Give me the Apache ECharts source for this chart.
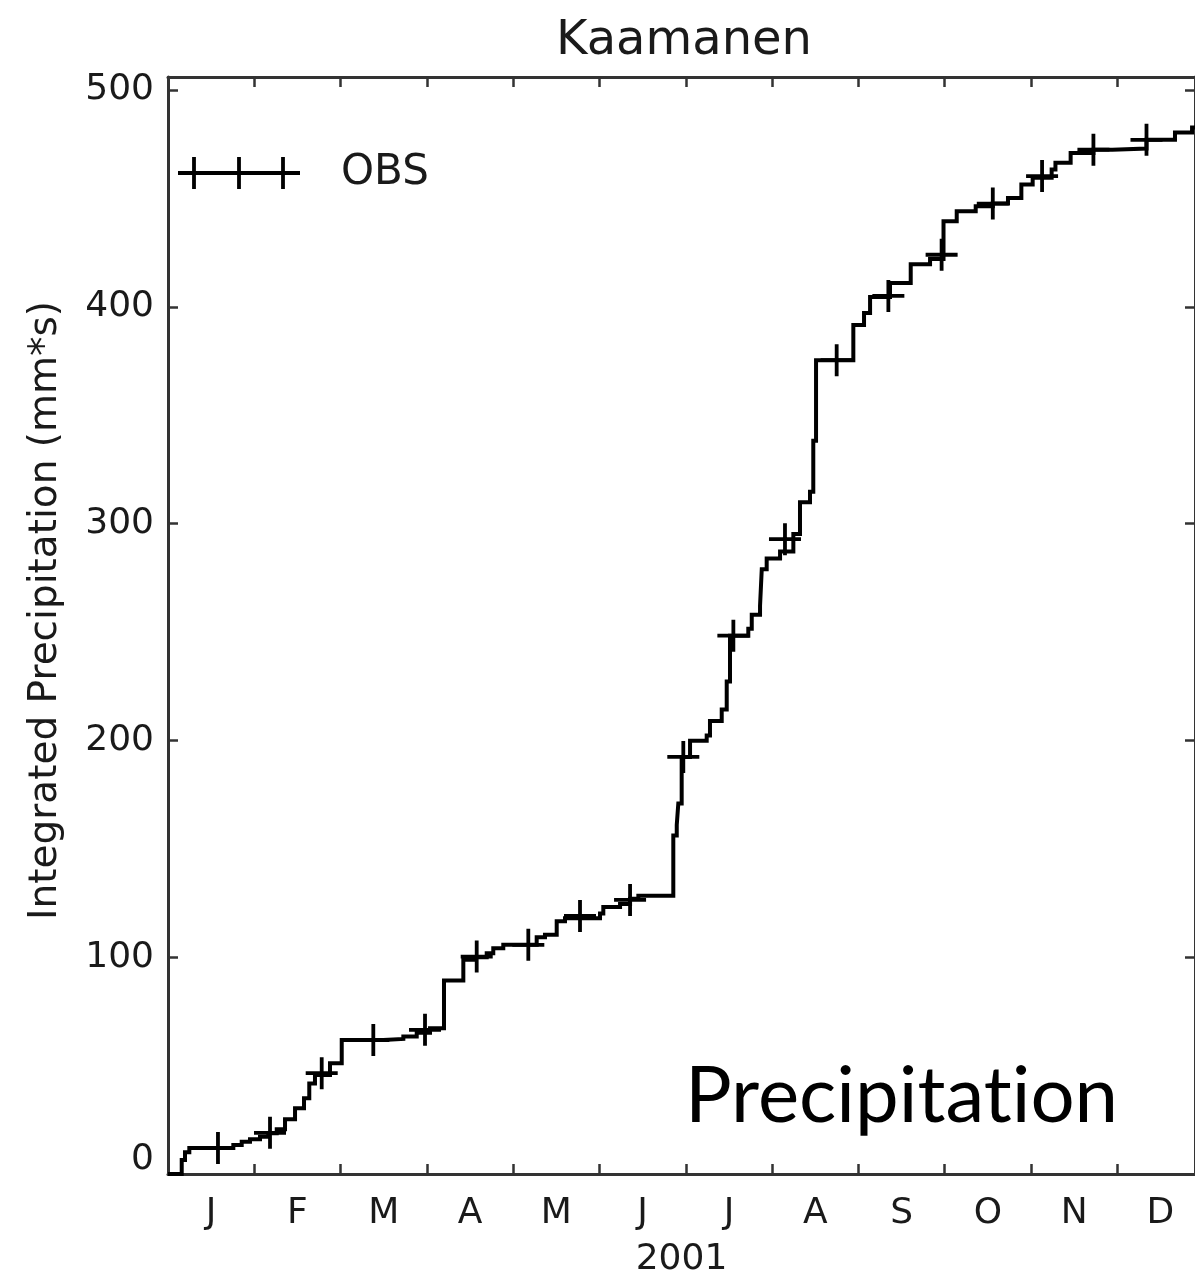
<!DOCTYPE html>
<html><head><meta charset="utf-8">
<script src="https://cdn.jsdelivr.net/npm/echarts@6/dist/echarts.min.js"></script>
<style>html,body{margin:0;padding:0;background:#fff}#c{width:1195px;height:1276px}</style>
</head><body><div id="c"></div>
<script>
// ---- data (x in months since Jan 1 2001, y in mm*s) ----
const monthLetters = ['J','F','M','A','M','J','J','A','S','O','N','D'];
const monthTicks = [1,2,3,4,5,6,7,8,9,10,11];
const monthLabelPos = [0.5,1.5,2.5,3.5,4.5,5.5,6.5,7.5,8.5,9.5,10.5,11.5];
const yTicks = [0,100,200,300,400,500];

const stepX = [0,0.159,0.197,0.247,0.757,0.854,0.950,1.066,1.162,1.260,1.356,1.472,1.576,1.637,1.703,1.877,2.013,2.495,2.727,2.882,3.036,3.198,3.422,3.557,3.693,3.769,3.885,4.272,4.368,4.504,4.600,5.006,5.044,5.238,5.354,5.450,5.855,5.895,5.913,5.952,6.049,6.242,6.280,6.416,6.474,6.512,6.724,6.764,6.860,6.880,6.937,7.092,7.246,7.323,7.439,7.477,7.509,7.941,8.065,8.135,8.366,8.606,8.830,8.986,9.139,9.359,9.557,9.733,9.888,10.019,10.239,10.283,10.459,10.723,10.942,11.338,11.668,11.866,11.9];
const stepY = [0,6.5,10,12,13.4,14.9,16,17.2,18.8,20.6,25.2,30.3,34.9,41.8,45.7,51.1,61.8,62.3,63.4,65.2,67.2,89.2,98.8,100,101.8,104.1,105.7,109.2,110.3,116.6,118,120.2,123.2,124.5,127,128.4,156.1,161,170.9,192.4,199.8,202.3,208.9,214.3,227.2,248.3,251.5,258,262,279,283.9,287.1,295.2,309.8,314.7,338.2,375.4,391.6,397.2,404.5,411,419.6,422,439.5,444.1,446.4,447.6,450.2,456.4,459.5,463.3,466.4,471,472.5,473,477,480.4,482.7,482.7];

const markerX = [0.579,1.182,1.781,2.379,2.978,3.577,4.175,4.774,5.354,5.971,6.551,7.149,7.748,8.347,8.964,9.557,10.128,10.723,11.338];
const markerY = [12,19,46.5,61.8,66.5,100.3,105.7,119,126.4,192.4,248.3,292.8,375.4,405,424,447.6,460.3,472.5,477];

// ---- chart ----
const FONT = 'DejaVu Sans';
const TXT = '#1a1a1a';
const AX = '#333';
const XMAX = 11.9, YMAX = 506;
const PLUS = 'path://M0,14.1 L32,14.1 L32,17.9 L0,17.9 Z M14.1,0 L17.9,0 L17.9,32 L14.1,32 Z';
const LEG = 'path://M0,14.1 L122,14.1 L122,17.9 L0,17.9 Z M14.1,0 L17.9,0 L17.9,32 L14.1,32 Z M59.1,0 L62.9,0 L62.9,32 L59.1,32 Z M103.1,0 L106.9,0 L106.9,32 L103.1,32 Z';

const chart = echarts.init(document.getElementById('c'));
const axisLineStyle = {color: AX, width: 3};
const tickStyle = {color: AX, width: 2.5};

chart.setOption({
  animation: false,
  backgroundColor: '#fff',
  title: {
    text: 'Kaamanen', left: 556, top: 18, padding: 0,
    textStyle: {fontFamily: FONT, fontSize: 48, fontWeight: 'normal', color: TXT}
  },
  grid: {left: 168, right: 0, top: 77, bottom: 102, containLabel: false, outerBoundsMode: 'none'},
  legend: {
    left: 178, top: 152, padding: 0, itemWidth: 122, itemHeight: 32,
    data: [{name: 'OBS', icon: LEG}],
    itemStyle: {color: '#000', borderWidth: 0, opacity: 1},
    textStyle: {fontFamily: FONT, fontSize: 42, color: TXT, padding: [0, 0, 0, 36]}
  },
  xAxis: [
    {
      type: 'value', position: 'bottom', min: 0, max: XMAX,
      axisLine: {show: true, onZero: false, lineStyle: axisLineStyle},
      axisTick: {show: true, inside: true, length: 10, customValues: monthTicks, lineStyle: tickStyle},
      axisLabel: {
        customValues: monthLabelPos, margin: 22,
        formatter: v => monthLetters[Math.floor(v)],
        fontFamily: FONT, fontSize: 36, color: TXT
      },
      splitLine: {show: false},
      name: '2001', nameLocation: 'middle', nameGap: 68,
      nameTextStyle: {fontFamily: FONT, fontSize: 36, color: TXT}
    },
    {
      type: 'value', position: 'top', min: 0, max: XMAX,
      axisLine: {show: true, onZero: false, lineStyle: axisLineStyle},
      axisTick: {show: true, inside: true, length: 10, customValues: monthTicks, lineStyle: tickStyle},
      axisLabel: {show: false},
      splitLine: {show: false}
    }
  ],
  yAxis: [
    {
      type: 'value', position: 'left', min: 0, max: YMAX,
      axisLine: {show: true, onZero: false, lineStyle: axisLineStyle},
      axisTick: {show: true, inside: true, length: 10, customValues: yTicks, lineStyle: tickStyle},
      axisLabel: {
        customValues: yTicks, margin: 14,
        formatter: v => v === 0 ? '{z|0}' : String(v),
        fontFamily: FONT, fontSize: 36, color: TXT,
        rich: {z: {fontFamily: FONT, fontSize: 36, color: TXT, padding: [0, 0, 28, 0]}}
      },
      splitLine: {show: false},
      name: 'Integrated Precipitation (mm*s)', nameLocation: 'middle', nameGap: 103,
      nameTextStyle: {fontFamily: FONT, fontSize: 39, color: TXT, padding: [0, 0, 0, 30]}
    },
    {
      type: 'value', position: 'right', min: 0, max: YMAX,
      axisLine: {show: true, onZero: false, lineStyle: axisLineStyle},
      axisTick: {show: true, inside: true, length: 10, customValues: yTicks, lineStyle: tickStyle},
      axisLabel: {show: false},
      splitLine: {show: false}
    }
  ],
  series: [
    {
      name: 'OBS', type: 'line', step: 'end',
      data: stepX.map((x, i) => [x, stepY[i]]),
      showSymbol: false, symbol: 'none',
      itemStyle: {color: '#000'},
      lineStyle: {color: '#000', width: 4, join: 'miter'},
      z: 3
    },
    {
      name: 'OBS', type: 'scatter',
      data: markerX.map((x, i) => [x, markerY[i]]),
      symbol: PLUS, symbolSize: 32,
      itemStyle: {color: '#000', opacity: 1},
      z: 4
    }
  ],
  graphic: [
    {
      type: 'text', left: 685, top: 1058, z: 10,
      style: {text: 'Precipitat\u200Cion', fontFamily: 'Lato', fontSize: 78, fill: '#000'}
    }
  ]
});
</script>
</body></html>
